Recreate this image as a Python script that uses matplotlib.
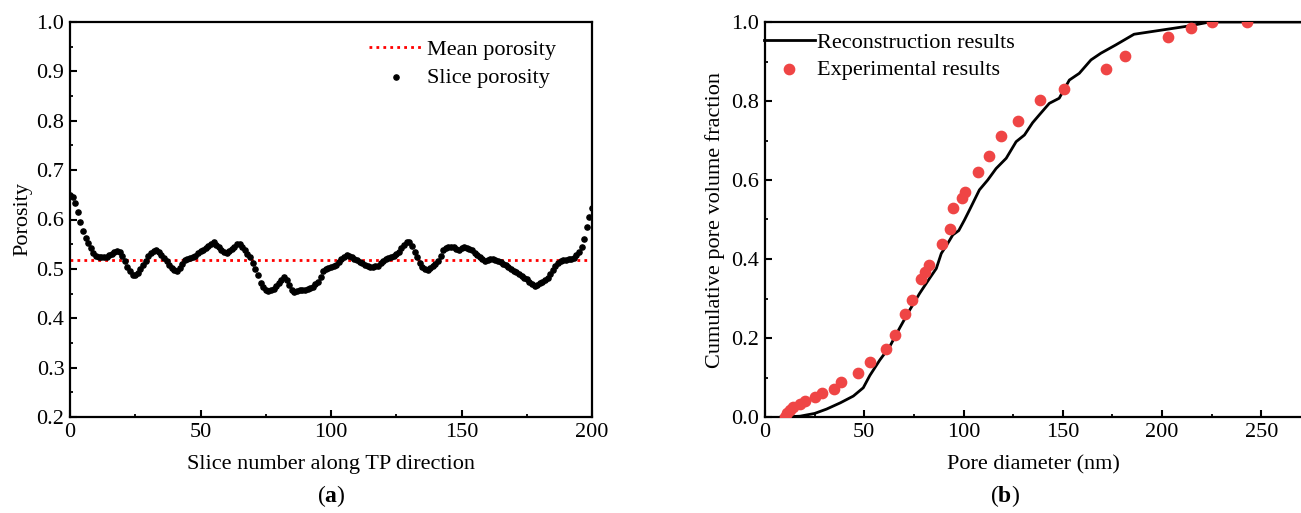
import numpy as np
import matplotlib.pyplot as plt
from matplotlib.ticker import MultipleLocator

plt.rcParams['font.family'] = ['Liberation Serif', 'DejaVu Serif']
plt.rcParams['mathtext.fontset'] = 'custom'
plt.rcParams['mathtext.bf'] = 'Liberation Serif:bold'
plt.rcParams['mathtext.rm'] = 'Liberation Serif'

# (a) porosity of each slice along TP direction, slices 0..200
slice_porosity = [
    0.650, 0.645, 0.633, 0.615, 0.595, 0.576, 0.562, 0.552, 0.543, 0.533,
    0.527, 0.525, 0.525, 0.525, 0.525, 0.528, 0.531, 0.535, 0.537, 0.534,
    0.527, 0.515, 0.503, 0.495, 0.488, 0.487, 0.492, 0.500, 0.508, 0.516,
    0.526, 0.533, 0.537, 0.538, 0.535, 0.529, 0.522, 0.515, 0.508, 0.501,
    0.497, 0.495, 0.502, 0.510, 0.517, 0.521, 0.523, 0.524, 0.527, 0.532,
    0.536, 0.539, 0.542, 0.546, 0.551, 0.554, 0.549, 0.544, 0.539, 0.535,
    0.532, 0.536, 0.540, 0.545, 0.550, 0.550, 0.544, 0.538, 0.531, 0.525,
    0.512, 0.500, 0.487, 0.472, 0.463, 0.458, 0.455, 0.457, 0.460, 0.465,
    0.471, 0.477, 0.484, 0.478, 0.468, 0.457, 0.453, 0.456, 0.458, 0.458,
    0.458, 0.459, 0.461, 0.464, 0.469, 0.474, 0.484, 0.495, 0.499, 0.501,
    0.503, 0.505, 0.508, 0.514, 0.520, 0.525, 0.528, 0.527, 0.524, 0.520,
    0.517, 0.514, 0.511, 0.508, 0.505, 0.503, 0.504, 0.505, 0.506, 0.511,
    0.516, 0.519, 0.522, 0.524, 0.527, 0.531, 0.535, 0.542, 0.549, 0.554,
    0.555, 0.546, 0.535, 0.524, 0.512, 0.504, 0.500, 0.498, 0.501, 0.505,
    0.510, 0.515, 0.526, 0.538, 0.543, 0.544, 0.544, 0.544, 0.540, 0.539,
    0.543, 0.544, 0.543, 0.541, 0.538, 0.533, 0.529, 0.524, 0.519, 0.515,
    0.517, 0.520, 0.519, 0.517, 0.515, 0.513, 0.510, 0.507, 0.503, 0.500,
    0.496, 0.493, 0.490, 0.486, 0.482, 0.479, 0.474, 0.469, 0.465, 0.468,
    0.471, 0.474, 0.478, 0.481, 0.489, 0.497, 0.505, 0.512, 0.516, 0.517,
    0.518, 0.519, 0.520, 0.523, 0.528, 0.535, 0.545, 0.560, 0.585, 0.605,
    0.624,
]
slices = np.arange(len(slice_porosity))
mean_porosity = 0.518

# (b) cumulative pore volume fraction
recon_d = [8, 17.6, 25, 31, 38, 44.5, 49.5, 52.8, 57.8, 62.8, 67.8, 72.9, 77.9,
           82.9, 86.3, 88.8, 92.1, 94.6, 97.6, 100.5, 103, 108, 112.2, 116.4,
           121.5, 126.5, 130.7, 134.8, 138.2, 143.2, 148.2, 153.3, 158.3,
           164.2, 169.2, 176.7, 185.9, 213.6, 224, 270]
recon_f = [0.0, 0.002, 0.009, 0.02, 0.036, 0.053, 0.074, 0.105, 0.144, 0.178,
           0.225, 0.271, 0.313, 0.351, 0.376, 0.414, 0.44, 0.461, 0.472, 0.499,
           0.524, 0.575, 0.6, 0.629, 0.655, 0.697, 0.714, 0.745, 0.765, 0.794,
           0.807, 0.853, 0.87, 0.904, 0.921, 0.942, 0.969, 0.99, 1.0, 1.0]

exp_d = [10, 10.9, 12.6, 14.2, 17.6, 20.1, 25.1, 28.5, 34.7, 38.5, 46.9, 52.8,
         61.1, 65.3, 70.7, 74.2, 78.7, 80.4, 82.4, 89.3, 93.3, 94.6, 99.3,
         100.8, 107.2, 112.7, 118.9, 127.6, 138.6, 150.8, 171.7, 181.4, 203.2,
         214.4, 225, 242.6]
exp_f = [0.0, 0.009, 0.018, 0.025, 0.033, 0.04, 0.05, 0.06, 0.071, 0.089, 0.112,
         0.139, 0.173, 0.207, 0.261, 0.296, 0.349, 0.367, 0.386, 0.439, 0.475,
         0.529, 0.554, 0.570, 0.621, 0.661, 0.711, 0.75, 0.803, 0.831, 0.88,
         0.915, 0.961, 0.986, 1.0, 1.0]

fs = 16
fig = plt.figure(figsize=(13.01, 5.13), dpi=100)
ax1 = fig.add_axes([70/1301, 1-417/513, (592-70)/1301, (417-22)/513])
ax2 = fig.add_axes([765/1301, 1-417/513, (1301-765)/1301, (417-22)/513])

ax1.axhline(mean_porosity, color='red', ls=(0, (1, 1.5)), lw=2, label='Mean porosity')
ax1.scatter(slices, slice_porosity, s=14, color='black', label='Slice porosity', zorder=3)
ax1.set_xlim(0, 200)
ax1.set_ylim(0.2, 1.0)
ax1.xaxis.set_major_locator(MultipleLocator(50))
ax1.xaxis.set_minor_locator(MultipleLocator(25))
ax1.yaxis.set_major_locator(MultipleLocator(0.1))
ax1.yaxis.set_minor_locator(MultipleLocator(0.05))
ax1.set_yticklabels([f'{v:.1f}' for v in ax1.get_yticks()])
ax1.set_xlabel('Slice number along TP direction', fontsize=fs, labelpad=10)
ax1.set_ylabel('Porosity', fontsize=fs, labelpad=3)
ax1.legend(loc='upper right', bbox_to_anchor=(0.957, 0.99), frameon=False, fontsize=fs,
           handlelength=2.4, handletextpad=0.2, labelspacing=0.35, borderaxespad=0.2)

ax2.plot(recon_d, recon_f, color='black', lw=2, label='Reconstruction results')
ax2.scatter(exp_d, exp_f, s=55, color='#EF4545', label='Experimental results', zorder=3)
ax2.set_xlim(0, 270)
ax2.set_ylim(0, 1.0)
ax2.xaxis.set_major_locator(MultipleLocator(50))
ax2.xaxis.set_minor_locator(MultipleLocator(25))
ax2.yaxis.set_major_locator(MultipleLocator(0.2))
ax2.yaxis.set_minor_locator(MultipleLocator(0.1))
ax2.set_yticklabels([f'{v:.1f}' for v in ax2.get_yticks()])
ax2.set_xlabel('Pore diameter (nm)', fontsize=fs, labelpad=10)
ax2.set_ylabel('Cumulative pore volume fraction', fontsize=fs, labelpad=5)
ax2.spines['right'].set_visible(False)
ax2.legend(loc='upper left', bbox_to_anchor=(-0.027, 1.008), frameon=False, fontsize=fs,
           handlelength=2.3, handletextpad=0.1, labelspacing=0.3, borderaxespad=0.2)

for ax in (ax1, ax2):
    for sp in ax.spines.values():
        sp.set_linewidth(1.6)
    ax.tick_params(which='major', direction='in', length=5, width=1.5, labelsize=fs, pad=4)
    ax.tick_params(which='minor', direction='in', length=2.5, width=1.3)

fig.text(331/1301, 1-496/513, r'($\mathbf{a}$)', fontsize=fs+1, ha='center', va='center')
fig.text(1005/1301, 1-496/513, r'($\mathbf{b}$)', fontsize=fs+1, ha='center', va='center')

fig.savefig('out.png', dpi=100)
